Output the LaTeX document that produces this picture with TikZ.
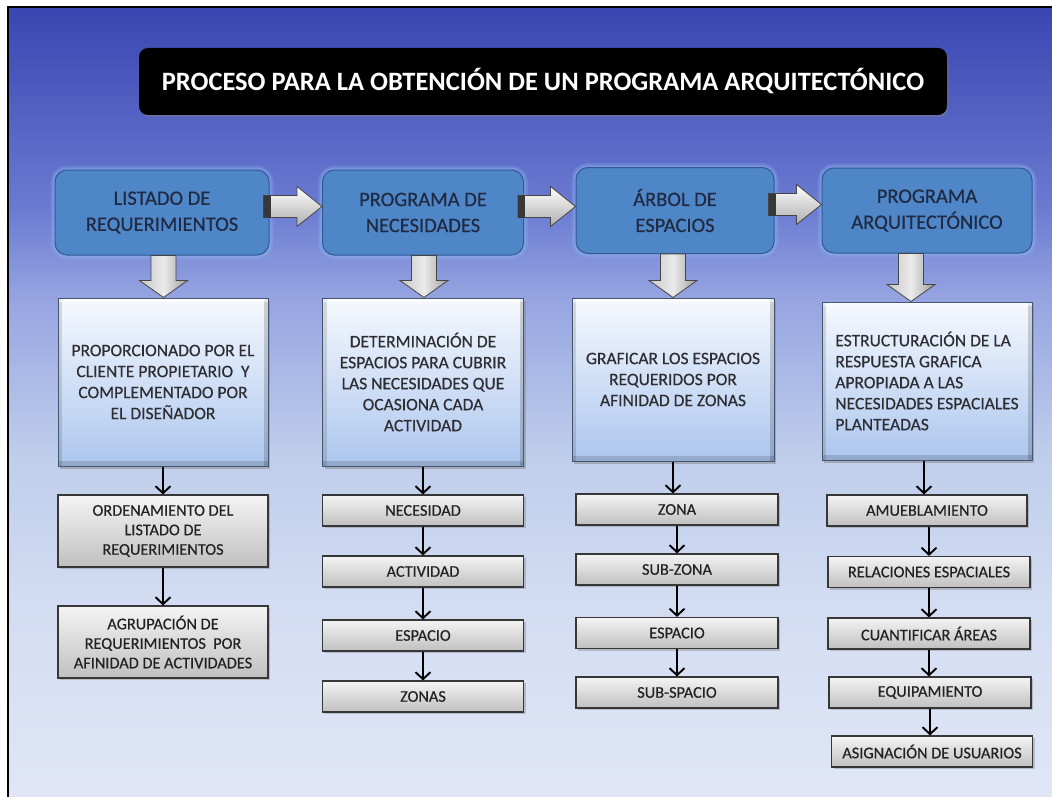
\documentclass[tikz,border=0pt]{standalone}
\usepackage{fontspec}
\setmainfont{Carlito}
\newfontfamily\heavyfont{Carlito}[FakeBold=0.45]
\usetikzlibrary{calc,arrows.meta,shadows}

\definecolor{bgA}{RGB}{224,230,246}
\definecolor{bgB}{RGB}{210,220,242}
\definecolor{bgC}{RGB}{190,205,235}
\definecolor{bgD}{RGB}{150,165,225}
\definecolor{bgE}{RGB}{108,124,210}
\definecolor{bgF}{RGB}{57,70,177}
\pgfdeclareverticalshading{bgshade}{100bp}{color(0bp)=(bgA); color(25bp)=(bgA); color(37.5bp)=(bgB); color(47bp)=(bgC); color(56.5bp)=(bgD); color(62bp)=(bgE); color(75bp)=(bgF); color(100bp)=(bgF)}

\definecolor{topfill}{RGB}{78,134,200}
\definecolor{topdraw}{RGB}{52,90,150}
\definecolor{glowc}{RGB}{140,180,240}
\definecolor{toptext}{RGB}{32,42,66}
\definecolor{midtop}{RGB}{246,249,254}
\definecolor{midbot}{RGB}{172,198,238}
\definecolor{midline}{RGB}{70,85,110}
\definecolor{midtext}{RGB}{45,45,50}
\definecolor{smtop}{RGB}{244,244,244}
\definecolor{smbot}{RGB}{192,192,192}
\definecolor{smline}{RGB}{55,55,55}
\definecolor{smtext}{RGB}{34,34,34}
\definecolor{arrline}{RGB}{70,70,70}

\tikzset{
  titlebox/.style={fill=black, rounded corners=9pt, minimum width=808pt, minimum height=67pt,
    text=white, font=\bfseries\fontsize{26.5}{30}\selectfont, inner sep=0pt,
    drop shadow={shadow xshift=1.5pt, shadow yshift=-2pt, opacity=.4}},
  topbox/.style={rounded corners=12pt, fill=topfill, draw=topdraw, line width=1pt,
    text=toptext, font=\heavyfont\fontsize{20.5}{26}\selectfont, align=center, inner sep=0pt,
    preaction={draw=glowc, line width=9pt, opacity=0.25},
    preaction={draw=glowc, line width=5pt, opacity=0.35}},
  bevel/.style={path picture={
      \fill[black, opacity=0.14] (path picture bounding box.south west) rectangle ([yshift=5pt]path picture bounding box.south east);
      \fill[black, opacity=0.12] (path picture bounding box.south west) rectangle ([xshift=4pt]path picture bounding box.north west);
      \fill[black, opacity=0.16] ([xshift=-4pt]path picture bounding box.south east) rectangle (path picture bounding box.north east);
      \fill[white, opacity=0.5] ([yshift=-4pt]path picture bounding box.north west) rectangle (path picture bounding box.north east);
    }},
  midbox/.style={top color=midtop, bottom color=midbot, draw=midline, line width=1pt,
    text=midtext, font=\heavyfont\fontsize{17.5}{21}\selectfont, align=center, inner sep=0pt, bevel,
    drop shadow={shadow xshift=2pt, shadow yshift=-2.5pt, opacity=.45}},
  smallbox/.style={top color=smtop, bottom color=smbot, draw=smline, line width=1.1pt,
    text=smtext, font=\heavyfont\fontsize{16.3}{19.5}\selectfont, align=center, inner sep=0pt,
    drop shadow={shadow xshift=2pt, shadow yshift=-2pt, opacity=.4}},
  thinarrow/.style={draw=black, line width=1.9pt, -{Straight Barb[length=7pt,width=15pt]}},
  blockh/.style={draw=arrline, line width=0.8pt, top color=white, bottom color=black!32},
  blockv/.style={draw=arrline, line width=0.8pt, left color=black!22, right color=black!38, middle color=black!8},
}

\newcommand{\myharrow}[2]{%
  \path[blockh] let \p1=(#1.east), \p2=(#2.west) in
    (\x1-6pt,\y1+17pt) -- (\x2-25pt,\y1+17pt) -- (\x2-25pt,\y1+26pt) -- (\x2,\y1+6pt)
    -- (\x2-25pt,\y1-14pt) -- (\x2-25pt,\y1-5pt) -- (\x1-6pt,\y1-5pt) -- cycle;
  \fill[black!78] let \p1=(#1.east) in (\x1-6pt,\y1-5pt) rectangle (\x1+1pt,\y1+17pt);
}
\newcommand{\myvarrow}[3][0pt]{%
  \path[blockv] let \p1=(#2.south), \p2=(#3.north) in
    (\x1+#1-12.5pt,\y1) -- (\x1+#1+12.5pt,\y1) -- (\x1+#1+12.5pt,\y2+17pt)
    -- (\x1+#1+24pt,\y2+17pt) -- (\x1+#1,\y2) -- (\x1+#1-24pt,\y2+17pt)
    -- (\x1+#1-12.5pt,\y2+17pt) -- cycle;
}

\begin{document}
\begin{tikzpicture}[x=1pt,y=-1pt]
\useasboundingbox (0,0) rectangle (1052,797);
\fill[white] (0,0) rectangle (1052,797);
\shade[shading=bgshade] (8,7) rectangle (1052,797);
\draw[line width=2.5pt] (8,797) -- (8,7) -- (1052,7);

\node[titlebox] (title) at (543,81.5) {PROCESO PARA LA OBTENCIÓN DE UN PROGRAMA ARQUITECTÓNICO};

% top row
\node[topbox, minimum width=214pt, minimum height=85pt] (t1) at (162,212.5) {LISTADO DE\\REQUERIMIENTOS};
\node[topbox, minimum width=201pt, minimum height=85pt] (t2) at (423,212.5) {PROGRAMA DE\\NECESIDADES};
\node[topbox, minimum width=198pt, minimum height=86pt] (t3) at (675,210.5) {ÁRBOL DE\\ESPACIOS};
\node[topbox, minimum width=210pt, minimum height=85pt] (t4) at (927,210.5) {PROGRAMA\\ARQUITECTÓNICO};

% middle row
\node[midbox, minimum width=210pt, minimum height=168pt] (m1) at (163,382) {PROPORCIONADO POR EL\\CLIENTE PROPIETARIO\ \ Y\\COMPLEMENTADO POR\\EL DISEÑADOR};
\node[midbox, minimum width=201pt, minimum height=168pt] (m2) at (423,382) {DETERMINACIÓN DE\\ESPACIOS PARA CUBRIR\\LAS NECESIDADES QUE\\OCASIONA CADA\\ACTIVIDAD};
\node[midbox, minimum width=202pt, minimum height=163pt] (m3) at (673,379.5) {GRAFICAR LOS ESPACIOS\\REQUERIDOS POR\\AFINIDAD DE ZONAS};
\node[midbox, minimum width=210pt, minimum height=158pt, align=left] (m4) at (927,381) {ESTRUCTURACIÓN DE LA\\RESPUESTA GRAFICA\\APROPIADA A LAS\\NECESIDADES ESPACIALES\\PLANTEADAS};

% column 1
\node[smallbox, minimum width=210pt, minimum height=72pt] (c11) at (163,531) {ORDENAMIENTO DEL\\LISTADO DE\\REQUERIMIENTOS};
\node[smallbox, minimum width=210pt, minimum height=72pt] (c12) at (163,642) {AGRUPACIÓN DE\\REQUERIMIENTOS\ \ POR\\AFINIDAD DE ACTIVIDADES};

% column 2
\node[smallbox, minimum width=201pt, minimum height=31pt] (c21) at (423,510.5) {NECESIDAD};
\node[smallbox, minimum width=201pt, minimum height=31pt] (c22) at (423,571.5) {ACTIVIDAD};
\node[smallbox, minimum width=201pt, minimum height=31pt] (c23) at (423,635.5) {ESPACIO};
\node[smallbox, minimum width=201pt, minimum height=31pt] (c24) at (423,696.5) {ZONAS};

% column 3
\node[smallbox, minimum width=202pt, minimum height=31pt] (c31) at (677,509.5) {ZONA};
\node[smallbox, minimum width=202pt, minimum height=31pt] (c32) at (677,569.5) {SUB-ZONA};
\node[smallbox, minimum width=202pt, minimum height=31pt] (c33) at (677,633) {ESPACIO};
\node[smallbox, minimum width=202pt, minimum height=31pt] (c34) at (677,692.5) {SUB-SPACIO};

% column 4
\node[smallbox, minimum width=200pt, minimum height=31pt] (c41) at (927,510.5) {AMUEBLAMIENTO};
\node[smallbox, minimum width=202pt, minimum height=31pt] (c42) at (929,572) {RELACIONES ESPACIALES};
\node[smallbox, minimum width=202pt, minimum height=31pt] (c43) at (929,633.5) {CUANTIFICAR ÁREAS};
\node[smallbox, minimum width=202pt, minimum height=31pt] (c44) at (930,692.5) {EQUIPAMIENTO};
\node[smallbox, minimum width=201pt, minimum height=31pt] (c45) at (932,751.5) {ASIGNACIÓN DE USUARIOS};

% block arrows
\myharrow{t1}{t2}
\myharrow{t2}{t3}
\myharrow{t3}{t4}
\myvarrow[1.5pt]{t1}{m1}
\myvarrow[1pt]{t2}{m2}
\myvarrow[-2pt]{t3}{m3}
\myvarrow[-16pt]{t4}{m4}

% thin arrows
\draw[thinarrow] (m1.south) -- (m1.south |- c11.north);
\draw[thinarrow] (c11.south) -- (c11.south |- c12.north);
\draw[thinarrow] (m2.south) -- (m2.south |- c21.north);
\draw[thinarrow] (c21.south) -- (c21.south |- c22.north);
\draw[thinarrow] (c22.south) -- (c22.south |- c23.north);
\draw[thinarrow] (c23.south) -- (c23.south |- c24.north);
\draw[thinarrow] (m3.south) -- (m3.south |- c31.north);
\draw[thinarrow] (c31.south) -- (c31.south |- c32.north);
\draw[thinarrow] (c32.south) -- (c32.south |- c33.north);
\draw[thinarrow] (c33.south) -- (c33.south |- c34.north);
\draw[thinarrow] ([xshift=-3pt]m4.south) -- ([xshift=-3pt]m4.south |- c41.north);
\draw[thinarrow] ([xshift=2pt]c41.south) -- ([xshift=2pt]c41.south |- c42.north);
\draw[thinarrow] (c42.south) -- (c42.south |- c43.north);
\draw[thinarrow] (c43.south) -- (c43.south |- c44.north);
\draw[thinarrow] (c44.south) -- (c44.south |- c45.north);
\end{tikzpicture}
\end{document}
